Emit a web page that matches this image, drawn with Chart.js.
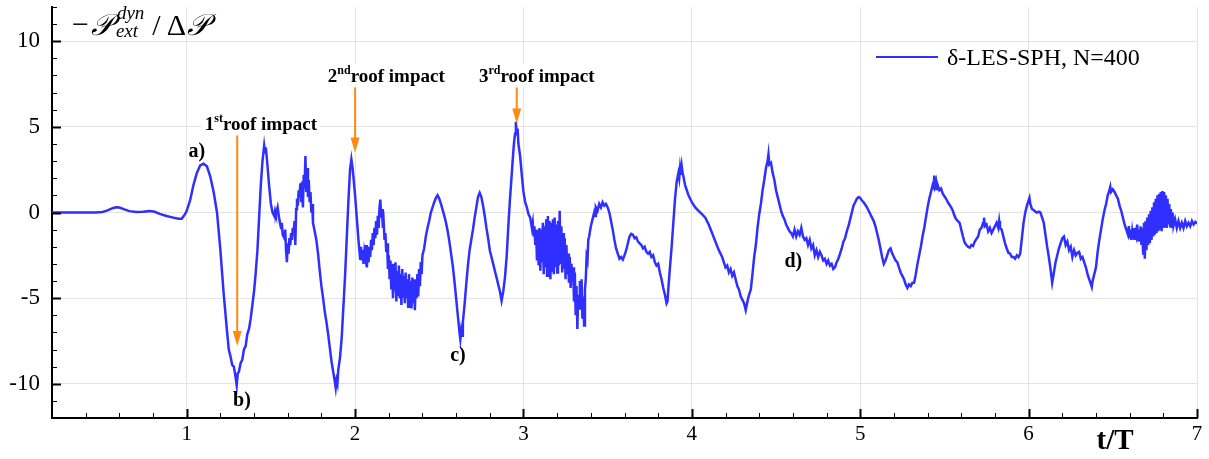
<!DOCTYPE html>
<html>
<head>
<meta charset="utf-8">
<script src="https://cdn.jsdelivr.net/npm/chart.js@4.4.1/dist/chart.umd.min.js"></script>
<style>
  html, body { margin: 0; padding: 0; background: #fff; }
  canvas { display: block; }
</style>
</head>
<body>
<canvas id="c" width="1209" height="459"></canvas>
<script>
// time t/T and pressure -P_ext^dyn / dP
const tVals = [
  0.20,0.30,0.40,0.46,0.50,0.53,0.56,0.58,0.60,0.63,0.66,0.70,0.74,0.78,0.81,0.84,0.88,0.92,0.95,0.97,0.99,
  1.00,1.02,1.04,1.06,1.08,1.10,1.12,1.14,1.16,1.18,1.20,1.22,1.24,1.25,1.26,1.27,1.28,1.29,1.297,1.303,
  1.31,1.32,1.33,1.34,1.35,1.36,1.37,1.38,1.39,1.40,1.41,1.42,1.43,1.44,1.45,1.46,1.465,1.47,1.48,1.49,
  1.50,1.51,1.52,1.525,1.53,1.54,1.55,1.56,1.565,1.57,1.58,1.585,1.59,1.595,1.60,1.605,1.61,1.615,1.62,
  1.625,1.63,1.635,1.64,1.645,1.65,1.655,1.66,1.665,1.67,1.675,1.68,1.685,1.69,1.695,1.70,1.705,1.71,
  1.715,1.72,1.725,1.73,1.735,1.74,1.745,1.75,1.76,1.77,1.78,1.79,1.80,1.81,1.82,1.83,1.84,1.85,1.86,
  1.87,1.875,1.88,1.885,1.89,1.895,1.90,1.91,1.92,1.93,1.94,1.95,1.96,1.97,1.978,1.985,1.99,2.00,2.01,
  2.02,2.03,2.035,2.04,2.045,2.05,2.055,2.06,2.065,2.07,2.075,2.08,2.085,2.09,2.095,2.10,2.105,2.11,
  2.115,2.12,2.125,2.13,2.135,2.14,2.145,2.15,2.155,2.16,2.165,2.17,2.175,2.18,2.185,2.19,2.195,2.20,
  2.205,2.21,2.215,2.22,2.225,2.23,2.235,2.24,2.245,2.25,2.255,2.26,2.265,2.27,2.275,2.28,2.285,2.29,
  2.295,2.30,2.305,2.31,2.315,2.32,2.325,2.33,2.335,2.34,2.345,2.35,2.355,2.36,2.365,2.37,2.375,2.38,
  2.385,2.39,2.395,2.40,2.41,2.42,2.43,2.44,2.45,2.46,2.47,2.48,2.49,2.50,2.51,2.52,2.53,2.54,2.55,2.56,
  2.57,2.58,2.59,2.60,2.61,2.615,2.62,2.625,2.63,2.635,2.64,2.65,2.66,2.67,2.68,2.69,2.70,2.71,2.72,2.73,
  2.74,2.75,2.76,2.77,2.78,2.79,2.80,2.81,2.82,2.83,2.84,2.85,2.86,2.87,2.88,2.89,2.90,2.91,2.92,2.93,
  2.94,2.945,2.95,2.955,2.96,2.965,2.97,2.98,2.99,3.00,3.01,3.02,3.03,3.04,3.05,3.055,3.06,3.065,3.07,
  3.075,3.08,3.085,3.09,3.095,3.10,3.105,3.11,3.115,3.12,3.125,3.13,3.135,3.14,3.145,3.15,3.155,3.16,
  3.165,3.17,3.175,3.18,3.185,3.19,3.195,3.20,3.205,3.21,3.215,3.22,3.225,3.23,3.235,3.24,3.245,3.25,
  3.255,3.26,3.265,3.27,3.275,3.28,3.285,3.29,3.295,3.30,3.305,3.31,3.315,3.32,3.325,3.33,3.335,3.34,
  3.345,3.35,3.355,3.36,3.365,3.37,3.375,3.38,3.385,3.39,3.40,3.41,3.42,3.425,3.43,3.44,3.45,3.46,3.47,
  3.48,3.49,3.50,3.51,3.52,3.53,3.54,3.55,3.56,3.57,3.58,3.59,3.60,3.61,3.62,3.63,3.64,3.65,3.66,3.67,
  3.68,3.69,3.70,3.71,3.72,3.73,3.74,3.75,3.76,3.77,3.78,3.79,3.80,3.81,3.82,3.83,3.84,3.85,3.855,3.86,
  3.87,3.88,3.89,3.90,3.91,3.92,3.925,3.93,3.935,3.94,3.945,3.95,3.96,3.97,3.98,3.99,4.00,4.02,4.04,
  4.06,4.08,4.10,4.12,4.14,4.16,4.18,4.20,4.21,4.22,4.23,4.24,4.25,4.26,4.27,4.28,4.29,4.30,4.31,4.32,
  4.33,4.34,4.35,4.36,4.37,4.38,4.39,4.40,4.41,4.42,4.43,4.44,4.45,4.455,4.46,4.47,4.48,4.49,4.50,4.51,
  4.52,4.53,4.54,4.55,4.56,4.57,4.58,4.59,4.60,4.61,4.62,4.63,4.64,4.65,4.66,4.67,4.68,4.69,4.70,4.71,
  4.72,4.73,4.74,4.75,4.76,4.77,4.78,4.79,4.80,4.81,4.82,4.83,4.84,4.85,4.86,4.87,4.88,4.89,4.90,4.91,
  4.92,4.93,4.94,4.95,4.96,4.97,4.98,4.99,5.00,5.01,5.02,5.03,5.04,5.05,5.06,5.07,5.08,5.09,5.10,5.11,
  5.12,5.13,5.14,5.15,5.16,5.17,5.18,5.19,5.20,5.21,5.22,5.23,5.24,5.25,5.26,5.27,5.28,5.29,5.30,5.31,
  5.32,5.33,5.34,5.35,5.36,5.37,5.38,5.39,5.40,5.41,5.42,5.43,5.435,5.44,5.445,5.45,5.455,5.46,5.47,
  5.48,5.49,5.50,5.51,5.52,5.53,5.54,5.55,5.56,5.57,5.58,5.59,5.60,5.61,5.62,5.63,5.64,5.65,5.66,5.67,
  5.68,5.69,5.70,5.71,5.72,5.73,5.735,5.74,5.75,5.76,5.77,5.78,5.79,5.80,5.81,5.82,5.825,5.83,5.84,
  5.85,5.86,5.87,5.88,5.89,5.90,5.91,5.92,5.93,5.94,5.95,5.96,5.97,5.98,5.99,6.00,6.005,6.01,6.02,6.03,
  6.04,6.05,6.06,6.07,6.08,6.09,6.10,6.11,6.12,6.13,6.14,6.15,6.16,6.17,6.18,6.19,6.20,6.21,6.22,6.23,
  6.24,6.25,6.26,6.27,6.28,6.29,6.30,6.31,6.32,6.33,6.34,6.35,6.36,6.37,6.375,6.38,6.39,6.40,6.41,6.42,
  6.43,6.44,6.45,6.46,6.47,6.48,6.485,6.49,6.50,6.51,6.52,6.53,6.54,6.55,6.56,6.57,6.58,6.59,6.595,
  6.60,6.605,6.61,6.615,6.62,6.625,6.63,6.635,6.64,6.645,6.65,6.655,6.66,6.665,6.67,6.675,6.68,6.685,
  6.69,6.695,6.70,6.705,6.71,6.715,6.72,6.725,6.73,6.735,6.74,6.745,6.75,6.755,6.76,6.765,6.77,6.775,
  6.78,6.785,6.79,6.795,6.80,6.805,6.81,6.815,6.82,6.825,6.83,6.835,6.84,6.845,6.85,6.855,6.86,6.87,
  6.88,6.89,6.90,6.91,6.92,6.93,6.94,6.95,6.96,6.97,6.98,6.99,7.00
];
const pVals = [
  0,0,0,0,0.03,0.12,0.25,0.31,0.29,0.18,0.08,0.03,0.05,0.08,0.04,-0.08,-0.2,-0.3,-0.37,-0.36,-0.1,
  0.1,0.7,1.6,2.3,2.75,2.85,2.7,2.1,1.2,0.0,-2.2,-4.8,-7.0,-8.0,-8.4,-8.9,-9.0,-9.6,-10.1,-9.4,
  -9.3,-8.8,-8.6,-8.0,-7.8,-7.1,-6.8,-6.2,-5.4,-4.6,-3.5,-2.2,-0.3,1.6,3.0,3.9,3.5,3.8,2.7,1.5,
  0.5,0.0,-0.2,0.1,-0.1,0.3,-0.4,-0.9,-0.6,-1.3,-1.5,-1.0,-2.2,-2.9,-1.8,-2.4,-1.5,-1.9,-1.2,
  -1.6,-0.9,-1.3,-0.5,-1.9,0.2,0.8,0.4,1.3,0.9,1.7,0.6,1.8,0.3,2.2,1.4,3.3,1.2,
  2.6,0.9,1.9,0.6,1.2,0.0,0.5,-0.6,-1.1,-1.6,-2.4,-3.4,-4.3,-5.0,-5.8,-6.4,-7.1,-7.9,-8.7,
  -9.3,-9.6,-9.9,-10.25,-9.8,-10.0,-9.2,-8.5,-7.4,-5.6,-3.8,-1.6,0.6,2.5,3.1,2.6,2.1,1.0,-0.3,
  -1.6,-2.7,-2.0,-2.8,-2.2,-3.0,-2.3,-2.6,-1.9,-3.2,-2.4,-2.9,-2.0,-2.6,-1.6,-2.2,-1.2,-1.9,
  -0.9,-1.5,-0.5,-1.3,-0.2,-0.9,0.3,0.75,-0.3,0.2,-0.9,-0.6,-1.6,-1.2,-2.3,-1.8,-3.3,-2.5,
  -3.9,-2.8,-4.5,-3.0,-5.0,-3.2,-4.6,-2.9,-5.2,-3.4,-4.8,-3.1,-5.0,-3.6,-5.4,-3.3,-4.9,-3.7,
  -5.3,-3.5,-5.0,-3.9,-5.5,-3.6,-5.1,-4.0,-5.6,-3.8,-5.3,-3.9,-5.7,-4.1,-5.0,-3.6,-4.9,-3.3,
  -4.3,-2.9,-3.6,-2.5,-2.1,-1.4,-0.9,-0.5,0.0,0.3,0.6,0.85,1.0,0.8,0.5,0.15,-0.2,-0.6,-1.1,-1.7,
  -2.4,-3.1,-4.0,-5.0,-6.0,-6.5,-7.0,-7.4,-6.9,-7.2,-6.4,-5.4,-4.2,-3.1,-2.2,-1.6,-1.0,-0.3,0.3,0.9,
  1.15,0.9,0.4,-0.2,-0.9,-1.5,-2.2,-2.6,-3.0,-3.4,-3.8,-4.2,-4.6,-5.15,-4.6,-3.8,-2.6,-0.8,0.8,2.2,
  3.6,4.2,4.6,5.3,4.5,4.9,4.0,3.3,2.2,1.2,0.6,0.3,-0.1,-0.3,-0.9,-0.6,-1.4,-0.8,-1.9,
  -1.0,-2.8,-1.2,-3.1,-0.9,-3.4,-1.0,-2.9,-0.6,-3.6,-0.8,-3.2,-0.4,-3.7,-0.2,-3.3,-0.5,-3.9,
  -0.6,-3.4,-0.4,-3.6,-0.3,-3.2,-0.7,-3.5,-0.5,-3.1,0.1,-3.0,-0.8,-3.5,-1.2,-3.3,-1.5,-3.9,
  -1.9,-3.6,-2.4,-4.1,-2.6,-4.4,-3.0,-4.0,-3.2,-5.2,-3.5,-6.0,-4.3,-6.8,-4.8,-5.6,-4.0,-5.0,
  -3.9,-6.2,-4.9,-6.6,-4.5,-3.9,-2.6,-2.8,-1.6,-1.4,-0.8,-0.4,0.0,-0.2,0.3,0.1,0.5,0.3,0.6,
  0.4,0.5,0.3,0.0,-0.5,-1.0,-1.6,-2.1,-2.4,-2.7,-2.6,-2.75,-2.5,-2.2,-1.8,-1.4,-1.25,-1.3,-1.5,-1.45,
  -1.7,-1.8,-1.9,-2.1,-2.0,-2.3,-2.4,-2.3,-2.6,-2.5,-2.9,-3.1,-3.0,-3.5,-3.9,-4.4,-4.8,-5.3,-5.2,-4.5,
  -3.2,-2.0,-0.6,0.8,1.8,2.3,2.0,2.6,2.2,2.7,2.3,2.1,1.6,1.3,1.0,0.8,0.6,0.3,0.1,
  -0.1,-0.3,-0.7,-1.2,-1.7,-2.2,-2.6,-3.2,-3.1,-3.5,-3.3,-3.7,-3.5,-3.9,-4.3,-4.5,-4.9,-5.1,-5.3,-5.7,
  -5.2,-4.8,-4.5,-3.6,-2.6,-1.9,-0.9,-0.1,0.5,1.3,1.9,2.6,3.0,3.4,2.8,2.9,2.3,1.9,1.3,0.9,
  0.5,0.1,-0.2,-0.4,-0.7,-0.9,-1.1,-1.2,-1.4,-1.0,-1.4,-1.1,-1.3,-0.9,-1.4,-1.6,-1.5,-1.9,-1.6,-2.1,
  -1.9,-2.5,-2.2,-2.6,-2.3,-2.5,-2.8,-2.7,-3.0,-2.8,-3.1,-3.0,-3.3,-3.2,-2.9,-2.7,-2.4,-2.1,-1.7,-1.5,
  -1.1,-0.8,-0.4,0.0,0.4,0.6,0.8,0.9,0.85,0.7,0.6,0.45,0.3,0.1,-0.1,-0.3,-0.5,-0.8,-1.2,-1.6,
  -2.1,-2.6,-3.0,-2.8,-2.5,-2.2,-2.1,-2.4,-2.6,-2.8,-2.9,-3.2,-3.5,-3.7,-3.9,-4.2,-4.4,-4.2,-4.3,-4.1,
  -4.1,-3.6,-3.0,-2.5,-2.0,-1.4,-0.9,-0.3,0.3,0.8,1.2,1.6,1.5,2.15,1.6,1.8,1.3,1.6,1.3,
  1.4,1.1,0.95,0.8,0.6,0.45,0.3,0.1,-0.2,-0.4,-0.5,-0.6,-1.0,-1.4,-1.75,-1.9,-2.0,-2.05,-1.9,-1.95,
  -1.7,-1.55,-1.4,-1.0,-0.9,-0.6,-0.3,-0.8,-0.7,-1.1,-0.9,-1.2,-1.0,-0.8,-0.6,-0.9,-0.5,-0.9,-1.0,
  -1.4,-1.8,-2.1,-2.35,-2.4,-2.6,-2.6,-2.7,-2.5,-2.6,-2.4,-1.5,-0.6,0.0,0.4,0.7,0.85,0.5,0.2,0.15,
  0.05,0.0,0.05,0.0,-0.3,-0.6,-1.3,-2.0,-2.6,-3.3,-4.1,-3.5,-2.9,-2.5,-2.1,-1.8,-1.5,-1.4,-1.9,-1.7,
  -2.2,-2.0,-2.6,-2.2,-2.5,-2.35,-2.3,-2.7,-2.6,-2.9,-3.2,-3.6,-3.9,-4.2,-4.35,-4.0,-3.6,-3.2,-2.3,-1.6,
  -1.0,-0.4,0.1,0.5,1.0,1.3,1.5,1.2,1.35,1.2,1.0,0.8,0.4,0.1,-0.3,-0.7,-1.0,-1.3,-0.8,
  -1.5,-1.0,-1.6,-1.1,-1.5,-0.9,-1.6,-1.2,-1.4,-0.7,-1.6,-1.0,-1.7,-0.8,-1.9,-0.9,-2.4,-0.6,
  -2.7,-0.5,-2.2,-0.3,-1.9,-0.1,-1.8,0.1,-1.6,0.3,-1.4,0.6,-1.3,0.8,-1.2,1.0,-1.1,1.1,
  -1.0,1.2,-1.1,1.25,-0.9,1.2,-0.8,1.0,-0.9,0.8,-0.7,0.5,-0.8,0.2,-0.9,0.0,-0.8,-0.4,
  -0.9,-0.5,-0.9,-0.6,-0.9,-0.5,-0.8,-0.6,-0.8,-0.5,-0.7,-0.55,-0.65
];

const xTicks = [1, 2, 3, 4, 5, 6, 7];
const yTicks = [-10, -5, 0, 5, 10];
const seriesName = 'δ-LES-SPH, N=400';

// annotation anchors in data units
const caseLabels = ['a)', 'b)', 'c)', 'd)'];
const caseT = [1.01, 1.275, 2.565, 4.55];
const caseV = [3.26, -11.3, -8.66, -3.2];
const impactOrd = ['1', '2', '3'];
const impactSup = ['st', 'nd', 'rd'];
const impactLabelT = [1.107, 1.838, 2.736];
const impactLabelV = [4.83, 7.62, 7.62];
const impactT = [1.30, 2.0, 2.96];
const impactTop = [4.5, 7.3, 7.3];
const impactTip = [-7.8, 3.5, 5.2];

const BLUE = '#2f2fff';
const ORANGE = '#ff8a10';
const SERIF = '"Liberation Serif", "Times New Roman", serif';

const decor = {
  id: 'decor',
  afterDraw(chart) {
    const { ctx, chartArea: ca, scales: { x, y } } = chart;
    ctx.save();

    // inward ticks on both axes
    ctx.strokeStyle = '#000';
    for (let v = -12; v <= 12; v++) {
      const py = Math.round(y.getPixelForValue(v)) + 0.5;
      const major = v % 5 === 0;
      ctx.lineWidth = major ? 2 : 1;
      ctx.beginPath();
      ctx.moveTo(ca.left, py);
      ctx.lineTo(ca.left + (major ? 9 : 5), py);
      ctx.stroke();
    }
    for (let k = 1; k <= 35; k++) {
      const px = Math.round(x.getPixelForValue(k / 5)) + 0.5;
      const major = k % 5 === 0;
      ctx.lineWidth = major ? 2 : 1;
      ctx.beginPath();
      ctx.moveTo(px, ca.bottom);
      ctx.lineTo(px, ca.bottom - (major ? 9 : 5));
      ctx.stroke();
    }

    // y title: -P_ext^dyn / dP
    ctx.fillStyle = '#000';
    ctx.textBaseline = 'alphabetic';
    ctx.textAlign = 'left';
    let tx = ca.left + 20;
    const base = ca.top + 28;
    ctx.font = '30px ' + SERIF;
    ctx.fillText('−', tx, base - 1);
    tx += ctx.measureText('−').width + 2;
    ctx.font = 'italic 30px "DejaVu Serif", ' + SERIF;
    ctx.fillText('𝒫', tx, base);
    tx += ctx.measureText('𝒫').width + 4;
    ctx.font = 'italic 19px ' + SERIF;
    ctx.fillText('dyn', tx, base - 16);
    const wSup = ctx.measureText('dyn').width;
    ctx.fillText('ext', tx - 1, base + 2);
    tx += wSup + 8;
    ctx.font = '30px ' + SERIF;
    ctx.fillText('/', tx, base);
    tx += ctx.measureText('/').width + 6;
    ctx.fillText('Δ', tx, base);
    tx += ctx.measureText('Δ').width + 1;
    ctx.font = 'italic 30px "DejaVu Serif", ' + SERIF;
    ctx.fillText('𝒫', tx, base);

    // x title
    ctx.font = 'bold 29px ' + SERIF;
    ctx.textAlign = 'center';
    ctx.fillText('t/T', ca.right - 82, chart.height - 10);

    // legend
    const ly = ca.top + 50;
    ctx.strokeStyle = BLUE;
    ctx.lineWidth = 2;
    ctx.beginPath();
    ctx.moveTo(ca.right - 321, ly);
    ctx.lineTo(ca.right - 259, ly);
    ctx.stroke();
    ctx.font = '24px ' + SERIF;
    ctx.textAlign = 'left';
    ctx.fillStyle = '#000';
    ctx.fillText(seriesName, ca.right - 250, ly + 8);

    // case labels a) b) c) d)
    ctx.font = 'bold 20px ' + SERIF;
    caseLabels.forEach((s, i) => {
      ctx.fillText(s, x.getPixelForValue(caseT[i]), y.getPixelForValue(caseV[i]));
    });

    // roof impact labels
    impactOrd.forEach((n, i) => {
      let px = x.getPixelForValue(impactLabelT[i]);
      const py = y.getPixelForValue(impactLabelV[i]);
      ctx.font = 'bold 19px ' + SERIF;
      const w1 = ctx.measureText(n).width;
      ctx.font = 'bold 12px ' + SERIF;
      const w2 = ctx.measureText(impactSup[i]).width;
      ctx.font = 'bold 19px ' + SERIF;
      const w3 = ctx.measureText('roof impact').width;
      ctx.fillStyle = '#fff';
      ctx.fillRect(px - 3, py - 19, w1 + w2 + w3 + 6, 24);
      ctx.fillStyle = '#000';
      ctx.fillText(n, px, py);
      px += w1;
      ctx.font = 'bold 12px ' + SERIF;
      ctx.fillText(impactSup[i], px, py - 8);
      px += w2;
      ctx.font = 'bold 19px ' + SERIF;
      ctx.fillText('roof impact', px, py);
    });

    // orange arrows
    ctx.strokeStyle = ORANGE;
    ctx.fillStyle = ORANGE;
    ctx.lineWidth = 2;
    impactT.forEach((t, i) => {
      const px = x.getPixelForValue(t);
      const y0 = y.getPixelForValue(impactTop[i]);
      const y1 = y.getPixelForValue(impactTip[i]);
      ctx.beginPath();
      ctx.moveTo(px, y0);
      ctx.lineTo(px, y1 - 12);
      ctx.stroke();
      ctx.beginPath();
      ctx.moveTo(px - 4.5, y1 - 15);
      ctx.lineTo(px + 4.5, y1 - 15);
      ctx.lineTo(px, y1);
      ctx.closePath();
      ctx.fill();
    });

    ctx.restore();
  }
};

const noEdgePad = (s) => {
  s.paddingTop = 0; s.paddingBottom = 0; s.paddingLeft = 0; s.paddingRight = 0;
};

const ctx = document.getElementById('c').getContext('2d');
const myChart = new Chart(ctx, {
  type: 'line',
  data: {
    datasets: [{
      label: seriesName,
      data: tVals.map((t, i) => ({ x: t, y: pVals[i] })),
      borderColor: BLUE,
      borderWidth: 2.5,
      pointRadius: 0,
      tension: 0,
      fill: false
    }]
  },
  options: {
    responsive: false,
    animation: false,
    devicePixelRatio: 1,
    layout: { padding: { top: 7, right: 12, left: 0, bottom: 0 } },
    plugins: {
      legend: { display: false },
      tooltip: { enabled: false }
    },
    scales: {
      x: {
        type: 'linear',
        min: 0.2,
        max: 7,
        afterBuildTicks: (s) => { s.ticks = xTicks.map(v => ({ value: v })); },
        afterFit: (s) => { s.height = 41; noEdgePad(s); },
        grid: { color: '#e4e4e4', lineWidth: 1, drawTicks: false },
        border: { display: true, color: '#000', width: 2 },
        ticks: { color: '#000', padding: 4, maxRotation: 0, font: { family: SERIF, size: 21 } }
      },
      y: {
        min: -12,
        max: 12,
        afterBuildTicks: (s) => { s.ticks = yTicks.map(v => ({ value: v })); },
        afterFit: (s) => { s.width = 52; noEdgePad(s); },
        grid: { color: '#e4e4e4', lineWidth: 1, drawTicks: false },
        border: { display: true, color: '#000', width: 2 },
        ticks: { color: '#000', padding: 12, font: { family: SERIF, size: 23 } }
      }
    }
  },
  plugins: [decor]
});
</script>
</body>
</html>
